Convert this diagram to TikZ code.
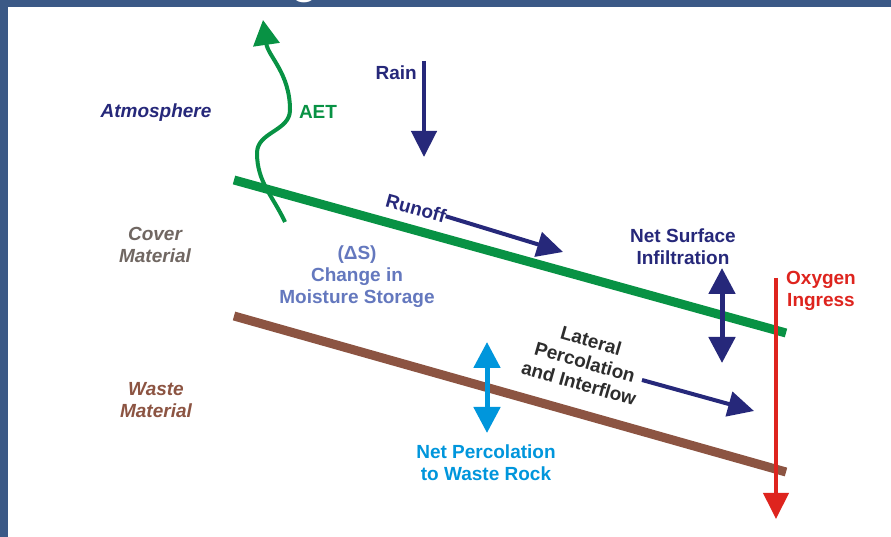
\documentclass[tikz,border=0pt]{standalone}
\usepackage{fontspec}
\setmainfont{Liberation Sans}
\usetikzlibrary{arrows.meta, positioning}
\definecolor{framenavy}{RGB}{59,89,134}
\definecolor{flownavy}{RGB}{38,40,122}
\definecolor{covergreen}{RGB}{8,146,68}
\definecolor{wastebrown}{RGB}{140,84,66}
\definecolor{covergrey}{RGB}{112,103,98}
\definecolor{storageblue}{RGB}{100,120,190}
\definecolor{percblue}{RGB}{0,150,220}
\definecolor{oxred}{RGB}{222,36,30}
\definecolor{lateralgrey}{RGB}{45,45,45}

\begin{document}
\begin{tikzpicture}[
  x=1pt, y=1pt,
  lbl/.style={font=\fontsize{19}{22}\selectfont\bfseries, align=center, inner sep=0pt},
  zonelbl/.style={lbl, font=\fontsize{19}{22}\selectfont\bfseries\itshape},
  flow/.style={line width=4.5pt, -{Triangle[length=26pt, width=25pt]}},
  twoway/.style={line width=5pt, {Triangle[length=26pt, width=26pt]}-{Triangle[length=26pt, width=26pt]}},
  surface/.style={line width=9pt}
]
\useasboundingbox (0,0) rectangle (891,537);

% Frame
\fill[framenavy] (0,0) rectangle (891,537);
\fill[white] (8,0) rectangle (891,530);
\begin{scope}
  \clip (0,530) rectangle (891,537);
  \node[text=white, font=\fontsize{44}{44}\selectfont\bfseries, anchor=base, inner sep=0pt] (titleg) at (305,543) {g};
\end{scope}

% Zone labels
\node[zonelbl, text=flownavy] (atmos) at (156,424) {Atmosphere};
\node[zonelbl, text=covergrey] (cover) at (155,292) {Cover\\Material};
\node[zonelbl, text=wastebrown] (waste) at (156,137) {Waste\\Material};

% Cover and waste surfaces
\coordinate (coverW) at (234,357);
\coordinate (coverE) at (786,204);
\coordinate (wasteW) at (234,221);
\coordinate (wasteE) at (786,65);
\draw[surface, covergreen] (coverW) -- (coverE);
\draw[surface, wastebrown] (wasteW) -- (wasteE);

% AET
\node[lbl, text=covergreen] (aet) at (318,425) {AET};
\coordinate (aetFoot) at (285,315);
\coordinate (aetLeft) at (257,384);
\coordinate (aetRight) at (290,427);
\coordinate (aetTip) at (263,517);
\draw[covergreen, line width=4pt, -{Triangle[length=25pt, width=26pt]}]
  (aetFoot) to[out=115, in=-90] (aetLeft) to[out=90, in=-90] (aetRight) to[out=90, in=-82] (aetTip);

% Rain
\node[lbl, text=flownavy, anchor=east] (rain) at (417,464) {Rain};
\coordinate (rainTop) at (424,476);
\coordinate (rainTip) at (424,380);
\draw[flow, flownavy] (rainTop) -- (rainTip);

% Runoff
\node[lbl, text=flownavy, rotate=-15.5] (runoff) at (416,329) {Runoff};
\coordinate (runoffTip) at (563,285);
\draw[flow, flownavy, line width=4pt] (runoff.east) -- (runoffTip);

% Moisture storage
\node[lbl, text=storageblue] (storage) at (357,260) {(ΔS)\\Change in\\Moisture Storage};

% Net surface infiltration
\node[lbl, text=flownavy] (netsurf) at (683,290) {Net Surface\\Infiltration};
\coordinate (infTop) at (722,269);
\coordinate (infBot) at (722,174);
\draw[twoway, flownavy] (infTop) -- (infBot);

% Lateral percolation
\node[lbl, text=lateralgrey, rotate=-16] (lateral) at (585,175) {Lateral\\Percolation\\and Interflow};
\coordinate (latStart) at (642,157);
\coordinate (latTip) at (754,126);
\draw[flow, flownavy, line width=4pt] (latStart) -- (latTip);

% Net percolation
\node[lbl, text=percblue] (netperc) at (486,74) {Net Percolation\\to Waste Rock};
\coordinate (percTop) at (487,195);
\coordinate (percBot) at (487,104);
\draw[twoway, percblue] (percTop) -- (percBot);

% Oxygen ingress
\node[lbl, text=oxred] (oxy) at (821,246) {Oxygen\\Ingress};
\coordinate (oxTop) at (776,259);
\coordinate (oxTip) at (776,18);
\draw[flow, oxred, line width=4pt] (oxTop) -- (oxTip);

\end{tikzpicture}
\end{document}
